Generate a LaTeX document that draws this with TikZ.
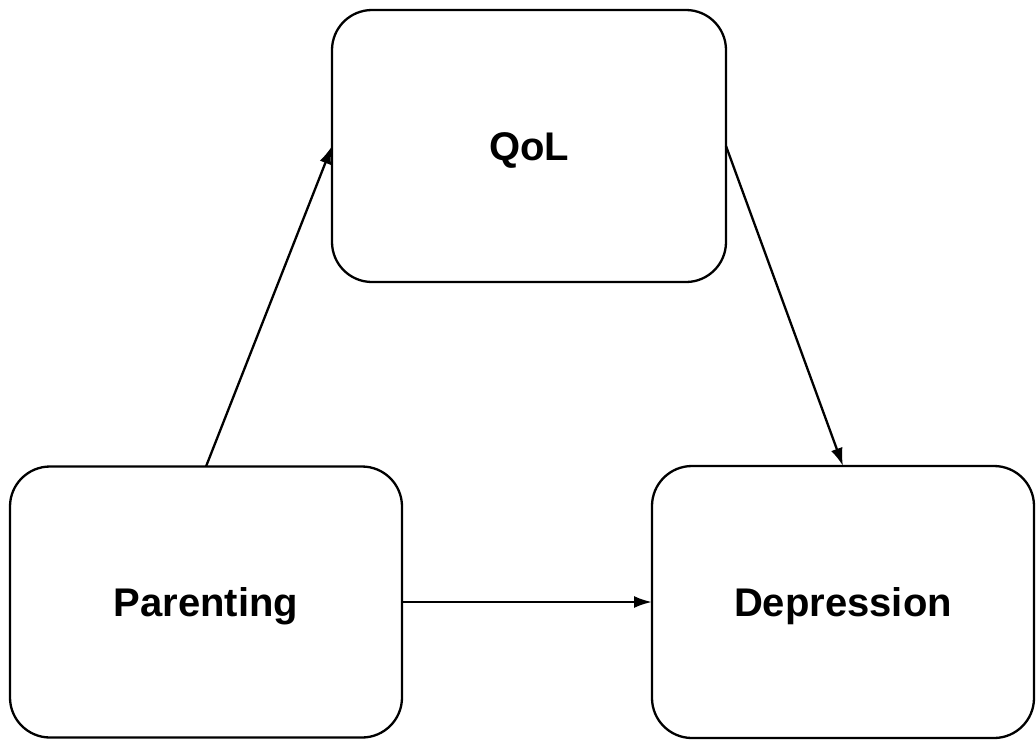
\documentclass[tikz,border=0pt]{standalone}
\usepackage{fontspec}
\setmainfont{Liberation Sans}
\usetikzlibrary{arrows.meta}
\begin{document}
\begin{tikzpicture}[x=1pt, y=-1pt, line width=2.3pt,
  box/.style={draw, rounded corners=40pt, align=center, inner sep=0pt, outer sep=0pt,
    text height=29pt, text depth=0pt, font=\fontsize{40}{48}\selectfont\bfseries},
  path/.style={-{Latex[length=18pt,width=12pt]}}]
\useasboundingbox (0,0) rectangle (1036,740);
\node[box, minimum width=394pt, minimum height=272pt] (qol) at (529,146){QoL};
\node[box, minimum width=392pt, minimum height=271pt] (parenting) at (206,602){Parenting};
\node[box, minimum width=382pt, minimum height=272pt] (depression) at (843,602){Depression};
\draw[path](parenting.north) -- (qol.west);
\draw[path](qol.east) -- (depression.north);
\draw[path](parenting.east) -- (depression.west);
\end{tikzpicture}
\end{document}
